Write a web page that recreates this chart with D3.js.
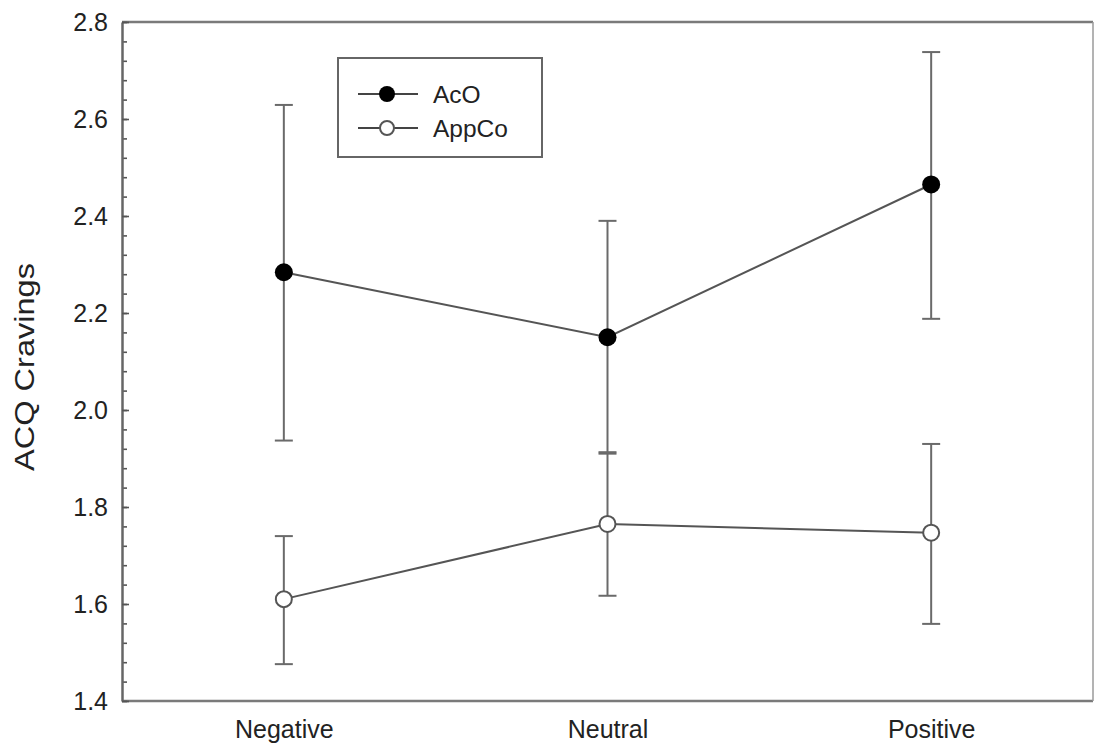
<!DOCTYPE html>
<html>
<head>
<meta charset="utf-8">
<script src="https://cdn.jsdelivr.net/npm/d3@7"></script>
<style>
  html, body { margin: 0; padding: 0; background: #fff; }
  svg { display: block; }
  text { font-family: "Liberation Sans", Arial, sans-serif; fill: #222; }
</style>
</head>
<body>
<svg id="chart" width="1095" height="750"></svg>
<script>
const categories = ["Negative", "Neutral", "Positive"];
const seriesNames = ["AcO", "AppCo"];
const acoMean = [2.284, 2.150, 2.465];
const acoLow  = [1.937, 1.910, 2.188];
const acoHigh = [2.629, 2.390, 2.738];
const appMean = [1.610, 1.765, 1.747];
const appLow  = [1.476, 1.617, 1.559];
const appHigh = [1.740, 1.913, 1.930];
const yTickValues = [1.4, 1.6, 1.8, 2.0, 2.2, 2.4, 2.6, 2.8];
const yLabel = "ACQ Cravings";

(function () {
const svg = d3.select("#chart");
const pLeft = 122, pRight = 1093, pTop = 22, pBottom = 701;

const x = d3.scalePoint().domain(categories).range([pLeft, pRight]).padding(0.5);
const y = d3.scaleLinear().domain([1.4, 2.8]).range([pBottom, pTop]);

// frame
svg.append("line").attr("x1", pLeft).attr("x2", pRight).attr("y1", pTop).attr("y2", pTop)
  .attr("stroke", "#7a7a7a").attr("stroke-width", 2.5);
svg.append("line").attr("x1", pLeft).attr("x2", pRight).attr("y1", pBottom).attr("y2", pBottom)
  .attr("stroke", "#7a7a7a").attr("stroke-width", 2.5);
svg.append("line").attr("x1", pRight).attr("x2", pRight).attr("y1", pTop).attr("y2", pBottom)
  .attr("stroke", "#9a9a9a").attr("stroke-width", 1.5);

// y axis
const minorTicks = d3.range(0, 36).map(i => 1.4 + i * 0.04).filter(v => v <= 2.8001);
const yAxisMinor = d3.axisRight(y).tickValues(minorTicks).tickSize(5).tickFormat("");
const gMinor = svg.append("g").attr("transform", `translate(${pLeft},0)`).call(yAxisMinor);
gMinor.select(".domain").remove();
gMinor.selectAll("line").attr("stroke", "#555").attr("stroke-width", 1.6);

const yAxis = d3.axisLeft(y).tickValues(yTickValues).tickSize(0).tickPadding(14)
  .tickFormat(d3.format(".1f"));
const gy = svg.append("g").attr("transform", `translate(${pLeft},0)`).call(yAxis);
gy.select(".domain").attr("stroke", "#666").attr("stroke-width", 2.5);
gy.selectAll("text").style("font-size", "25px").style("font-family", "Liberation Sans, Arial, sans-serif").attr("fill", "#222");
const gMajor = svg.append("g").attr("transform", `translate(${pLeft},0)`)
  .call(d3.axisRight(y).tickValues(yTickValues).tickSize(7).tickFormat(""));
gMajor.select(".domain").remove();
gMajor.selectAll("line").attr("stroke", "#555").attr("stroke-width", 1.6);

// x axis labels
const xAxis = d3.axisBottom(x).tickSize(0).tickPadding(19);
const gx = svg.append("g").attr("transform", `translate(0,${pBottom})`).call(xAxis);
gx.select(".domain").remove();
gx.selectAll("text").style("font-size", "25px").style("font-family", "Liberation Sans, Arial, sans-serif").attr("fill", "#222");

// y label
svg.append("text")
  .attr("transform", `translate(34,367) rotate(-90)`)
  .attr("text-anchor", "middle")
  .attr("textLength", 208).attr("lengthAdjust", "spacingAndGlyphs")
  .style("font-size", "28px")
  .text(yLabel);

const series = [
  { name: seriesNames[0], mean: acoMean, low: acoLow, high: acoHigh, fill: "#000", stroke: "#000" },
  { name: seriesNames[1], mean: appMean, low: appLow, high: appHigh, fill: "#fff", stroke: "#555" }
];

const capW = 9;
series.forEach(s => {
  const g = svg.append("g");
  categories.forEach((c, i) => {
    const cx = x(c);
    g.append("line").attr("x1", cx).attr("x2", cx).attr("y1", y(s.low[i])).attr("y2", y(s.high[i]))
      .attr("stroke", "#6a6a6a").attr("stroke-width", 2);
    [s.low[i], s.high[i]].forEach(v => {
      g.append("line").attr("x1", cx - capW).attr("x2", cx + capW).attr("y1", y(v)).attr("y2", y(v))
        .attr("stroke", "#6a6a6a").attr("stroke-width", 2);
    });
  });
});

series.forEach(s => {
  const line = d3.line().x((d, i) => x(categories[i])).y(d => y(d));
  svg.append("path").datum(s.mean).attr("d", line)
    .attr("fill", "none").attr("stroke", "#555").attr("stroke-width", 2);
});

series.forEach(s => {
  svg.append("g").selectAll("circle").data(s.mean).join("circle")
    .attr("cx", (d, i) => x(categories[i])).attr("cy", d => y(d))
    .attr("r", s.fill === "#000" ? 9 : 8)
    .attr("fill", s.fill)
    .attr("stroke", s.stroke).attr("stroke-width", s.fill === "#000" ? 0 : 2);
});

// legend
const lg = svg.append("g");
lg.append("rect").attr("x", 338).attr("y", 58).attr("width", 204).attr("height", 99)
  .attr("fill", "#fff").attr("stroke", "#666").attr("stroke-width", 2);
series.forEach((s, i) => {
  const ly = 94 + i * 34;
  lg.append("line").attr("x1", 358).attr("x2", 418).attr("y1", ly).attr("y2", ly)
    .attr("stroke", "#444").attr("stroke-width", 2);
  lg.append("circle").attr("cx", 387).attr("cy", ly).attr("r", s.fill === "#000" ? 8 : 7)
    .attr("fill", s.fill).attr("stroke", s.stroke).attr("stroke-width", s.fill === "#000" ? 0 : 2);
  lg.append("text").attr("x", 433).attr("y", ly + 9).style("font-size", "24.5px").text(s.name);
});
})();
</script>
</body>
</html>
